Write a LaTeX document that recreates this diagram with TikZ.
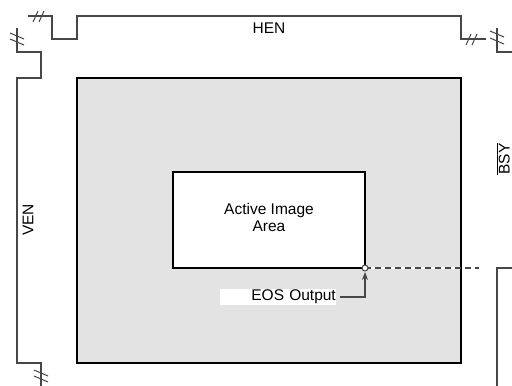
\documentclass[tikz,border=0pt]{standalone}
\usepackage{fontspec}
\setmainfont{Liberation Sans}
\usetikzlibrary{calc,arrows.meta}

\tikzset{
  sig/.style={draw=black!72, line width=1.4pt},
  brk/.style={draw=black!72, line width=1pt},
  frame/.style={draw=black, line width=2.8pt},
  lbl/.style={font=\fontsize{15.5}{17}\selectfont, inner sep=0pt},
}

\begin{document}
\begin{tikzpicture}[x=1pt,y=-1pt]
\useasboundingbox (0,0) rectangle (512,386);
% frame and active area
\draw[frame, fill=black!11] (77,78) rectangle (461,363);
\draw[frame, fill=white] (173,172) rectangle (365,268);
\node[lbl, align=center] (act) at (269,217) {Active Image\\Area};
% HEN
\draw[sig] (28,16) -- (52,16) -- (52,39) -- (77,39) -- (77,16) -- (461,16) -- (461,39) -- (486,39);
\draw[brk] (33,22) -- (38,11) (39,22) -- (44,11);
\draw[brk] (466,45) -- (471,34) (472,45) -- (477,34);
\node[lbl] (hen) at (269,28) {HEN};
% VEN
\draw[sig] (17,28) -- (17,52) -- (41,52) -- (41,78) -- (17,78) -- (17,363) -- (41,363) -- (41,386);
\draw[brk] (10,33) -- (24,39) (10,39) -- (24,45);
\draw[brk] (34,370) -- (48,376) (34,376) -- (48,382);
\node[lbl, rotate=90] (ven) at (28,220) {VEN};
% BSY
\draw[sig] (497,28) -- (497,52) -- (512,52);
\draw[brk] (490,31) -- (504,37) (490,38) -- (504,44);
\draw[sig] (512,268) -- (497,268) -- (497,386);
\node[lbl, rotate=90, anchor=south] (bsy) at (510,159) {$\overline{\mbox{BSY}}$};
% EOS
\coordinate (eos) at (365,268);
\draw[white, line width=1.4pt] (eos) -- (461,268);
\draw[sig, dash pattern=on 6pt off 4pt] (eos) -- (479,268);
\draw[draw=black!72, line width=1pt, fill=white] (eos) circle (3);
\node[lbl, fill=white, text width=116pt, align=right, inner ysep=1pt, anchor=east] (eostxt) at (336,297) {EOS Output};
\draw[sig, line width=1.2pt, -{Stealth[length=8pt,width=6pt]}] (eostxt.east) ++(4,0) -| ($(eos)+(0,4)$);
\end{tikzpicture}
\end{document}
